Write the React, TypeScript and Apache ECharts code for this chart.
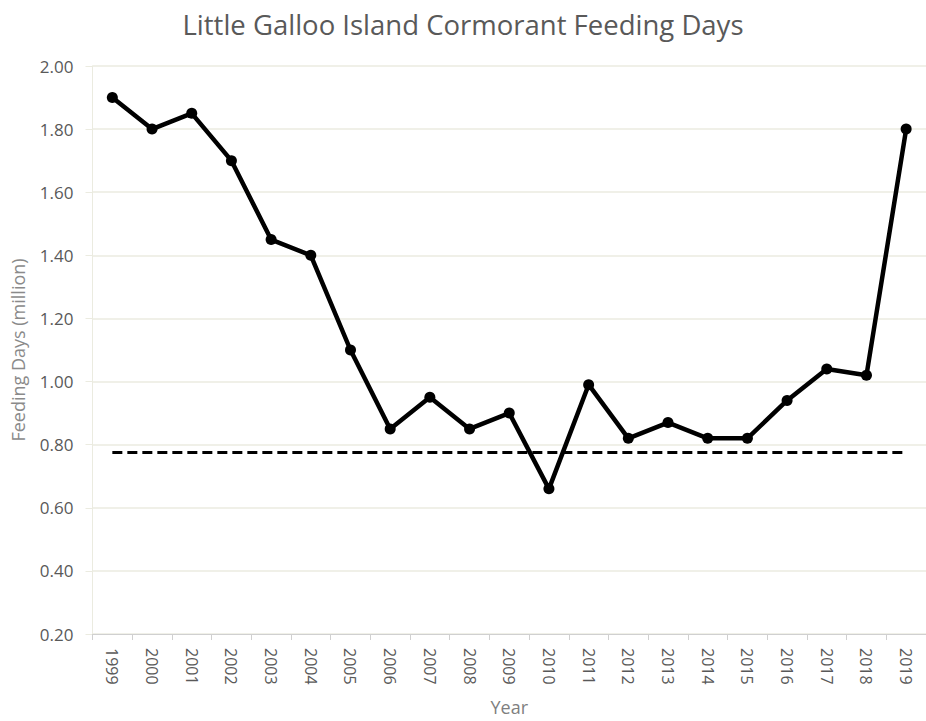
import React, { useEffect, useRef } from "react";
import * as echarts from "echarts";

const years = ["1999","2000","2001","2002","2003","2004","2005","2006","2007","2008","2009","2010","2011","2012","2013","2014","2015","2016","2017","2018","2019"];
const feedingDays = [1.90, 1.80, 1.85, 1.70, 1.45, 1.40, 1.10, 0.85, 0.95, 0.85, 0.90, 0.66, 0.99, 0.82, 0.87, 0.82, 0.82, 0.94, 1.04, 1.02, 1.80];
const targetLevel = 0.775;
const yMin = 0.2;
const yMax = 2.0;
const yStep = 0.2;

export default function App() {
  const ref = useRef<HTMLDivElement>(null);
  useEffect(() => {
    document.body.style.margin = "0";
    if (!ref.current) return;
    const chart = echarts.init(ref.current, null, { renderer: "svg" });
    const font = "'Open Sans', 'Liberation Sans', sans-serif";
    chart.setOption({
      animation: false,
      backgroundColor: "#ffffff",
      title: {
        text: "Little Galloo Island Cormorant Feeding Days",
        left: "center",
        top: 5,
        textStyle: { fontFamily: font, fontSize: 27.5, fontWeight: "normal", color: "#595959" },
      },
      grid: { left: 92.5, width: 838, top: 66, bottom: 86 },
      xAxis: {
        type: "category",
        data: years,
        boundaryGap: true,
        name: "Year",
        nameLocation: "middle",
        nameGap: 64,
        nameTextStyle: { fontFamily: font, fontSize: 18, color: "#7f7f7f" },
        axisLine: { show: true, lineStyle: { color: "#d0d0d0", width: 1 } },
        axisTick: { show: true, length: 6, alignWithLabel: false, lineStyle: { color: "#d0d0d0" } },
        axisLabel: { rotate: -90, margin: 14, fontFamily: font, fontSize: 16, color: "#595959" },
        splitLine: { show: false },
      },
      yAxis: {
        type: "value",
        min: yMin,
        max: yMax,
        interval: yStep,
        name: "Feeding Days (million)",
        nameLocation: "middle",
        nameGap: 66,
        nameTextStyle: { fontFamily: font, fontSize: 18, color: "#8a8a8a" },
        axisLine: { show: true, lineStyle: { color: "#ebebe0", width: 1 } },
        axisTick: { show: true, length: 7, lineStyle: { color: "#ebebe0" } },
        axisLabel: {
          margin: 19,
          fontFamily: font,
          fontSize: 17,
          color: "#595959",
          formatter: (v: number) => v.toFixed(2),
        },
        splitLine: { show: true, lineStyle: { color: "#ebebe0", width: 1.5 } },
      },
      series: [
        {
          type: "line",
          data: feedingDays,
          symbol: "circle",
          symbolSize: 11,
          lineStyle: { color: "#000000", width: 4.5 },
          itemStyle: { color: "#000000" },
          z: 3,
          markLine: {
            silent: true,
            symbol: "none",
            label: { show: false },
            lineStyle: { color: "#000000", type: [10, 5], width: 3 },
            data: [[{ coord: [years[0], targetLevel] }, { coord: [years[years.length - 1], targetLevel] }]],
          },
        },
      ],
    });
    return () => chart.dispose();
  }, []);
  return <div ref={ref} style={{ width: 926, height: 721 }} />;
}
